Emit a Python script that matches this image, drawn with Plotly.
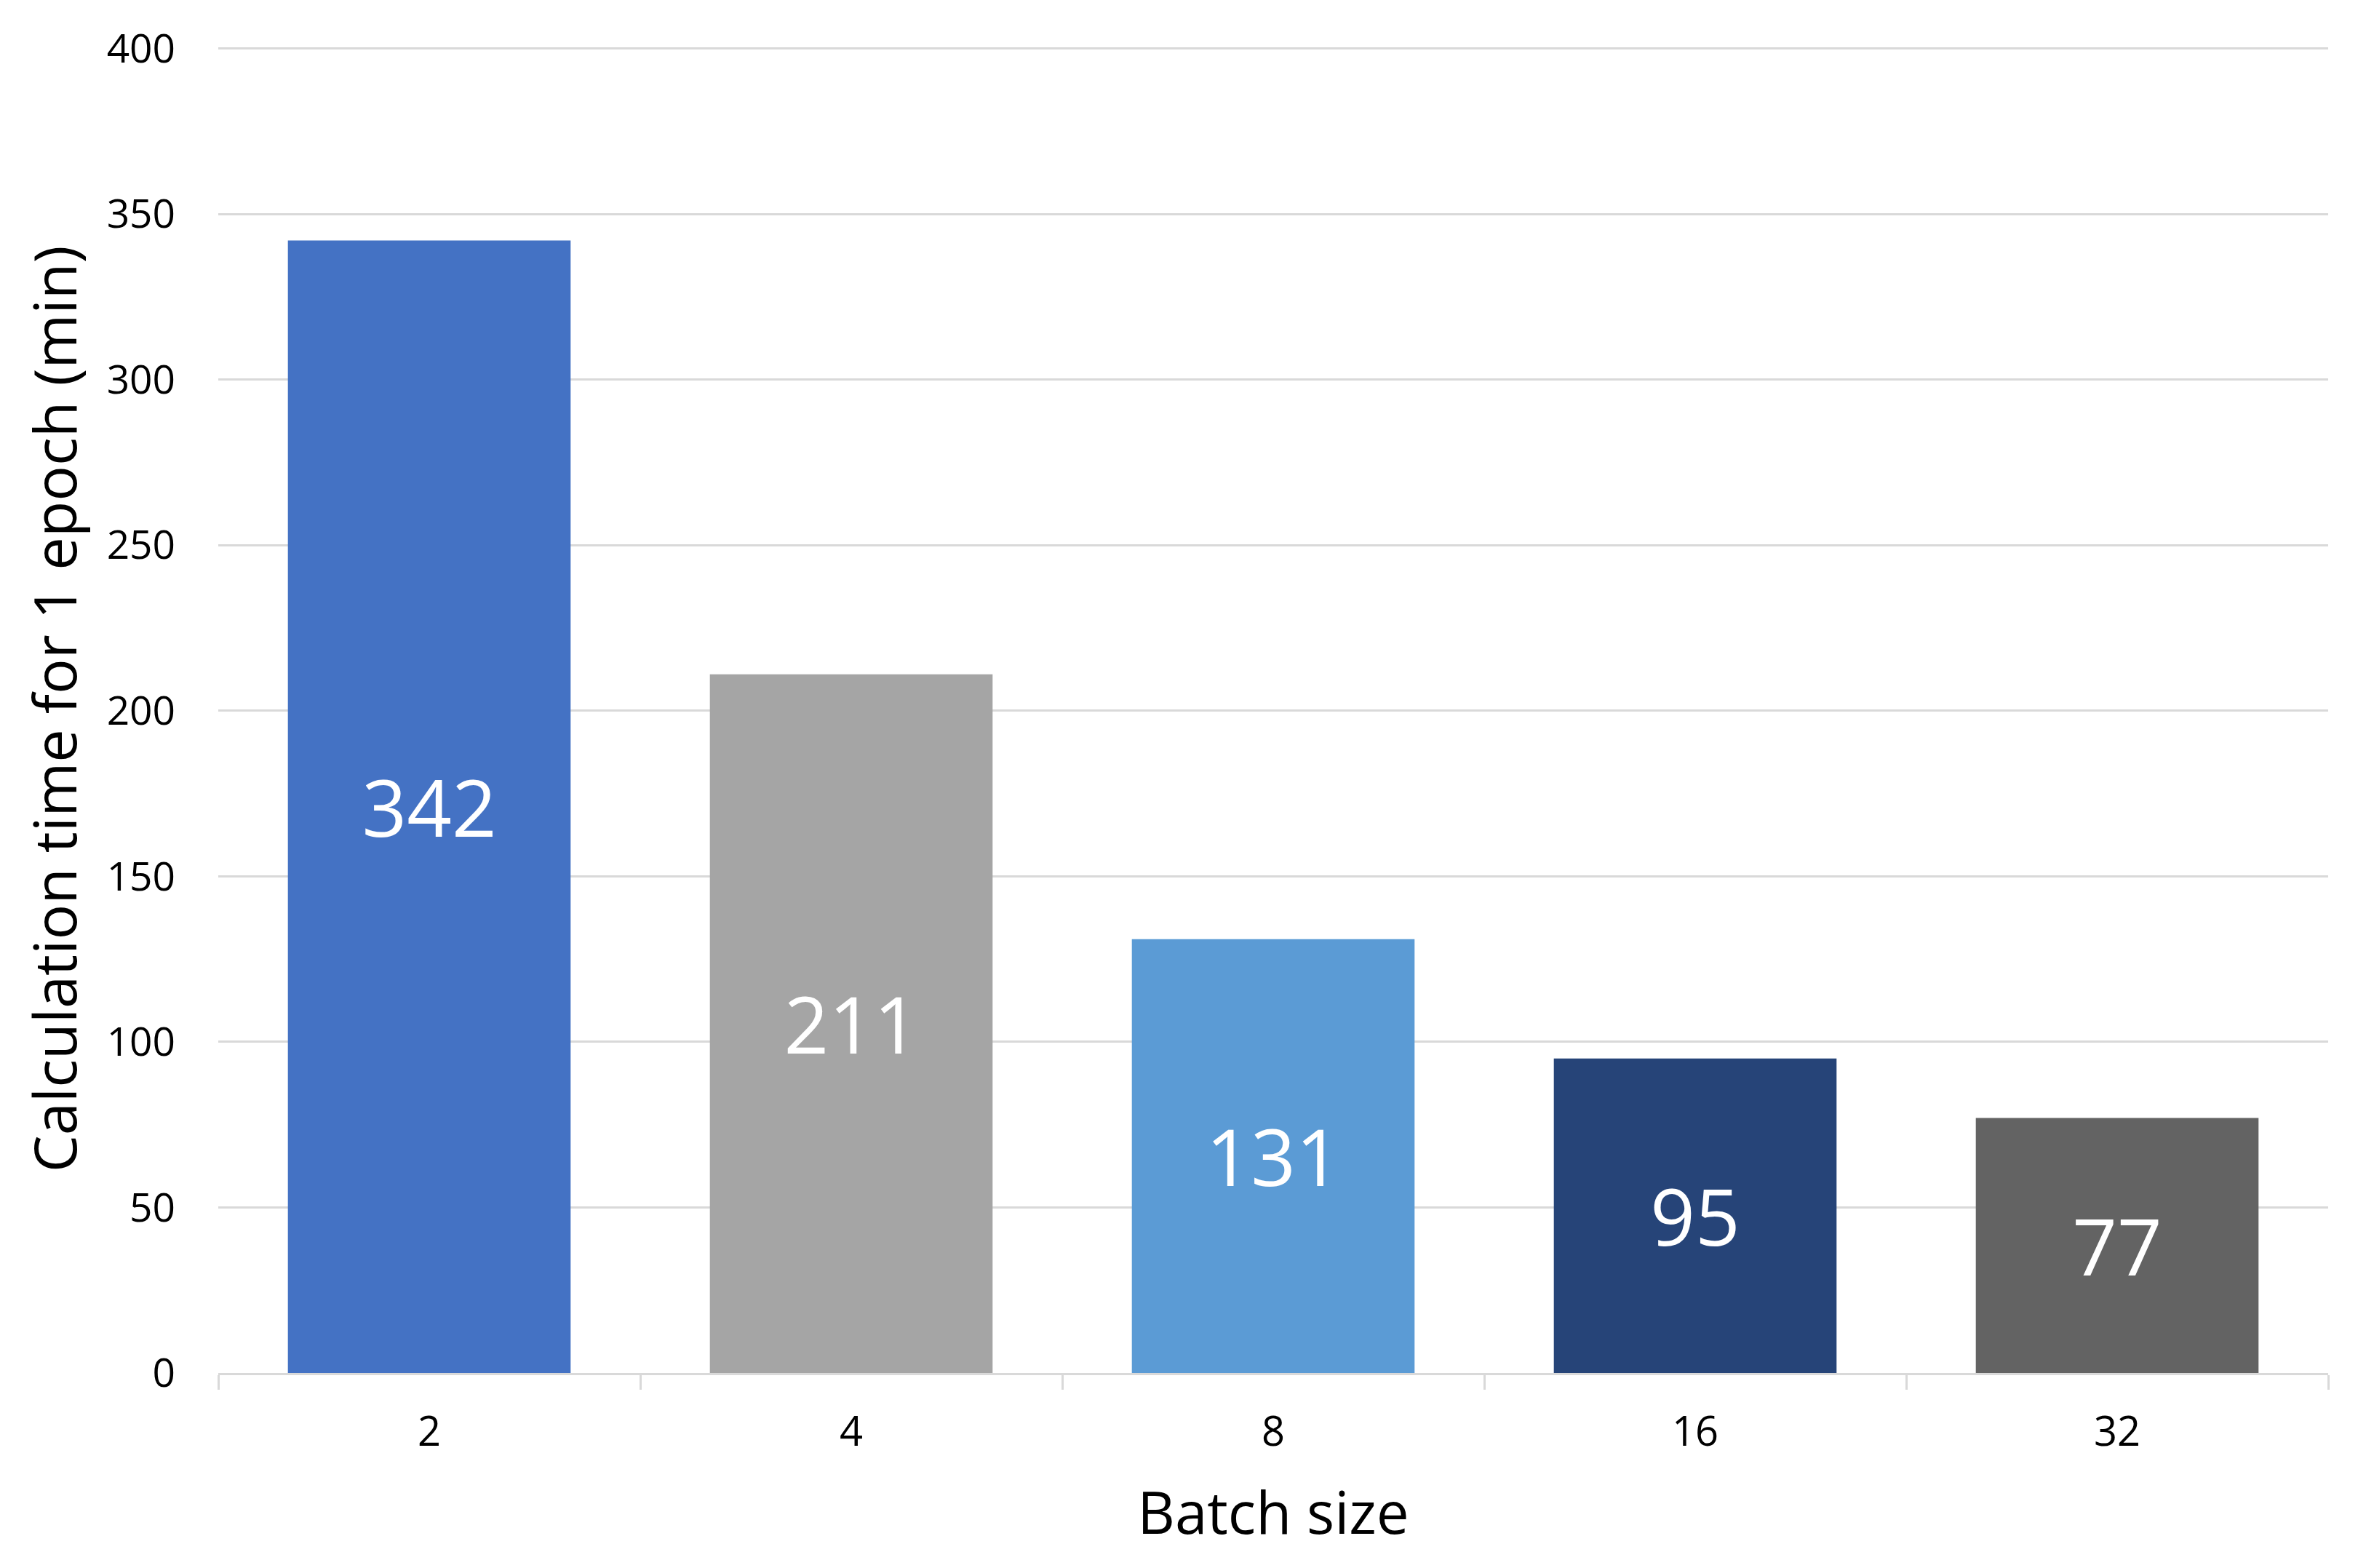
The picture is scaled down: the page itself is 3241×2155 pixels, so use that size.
import plotly.graph_objects as go

categories = ["2", "4", "8", "16", "32"]
values = [342, 211, 131, 95, 77]
colors = ["#4472C4", "#A5A5A5", "#5B9BD5", "#264478", "#636363"]
y_ticks = [0, 50, 100, 150, 200, 250, 300, 350, 400]

FONT = "Open Sans"

fig = go.Figure(
    go.Bar(
        x=categories,
        y=values,
        marker=dict(color=colors, line=dict(width=0)),
        text=[str(v) for v in values],
        textposition="inside",
        insidetextanchor="middle",
        textangle=0,
        textfont=dict(family=FONT, size=108, color="white"),
        cliponaxis=False,
    )
)

fig.update_layout(
    width=3241,
    height=2155,
    margin=dict(l=292, r=49, t=54, b=276, autoexpand=False),
    paper_bgcolor="white",
    plot_bgcolor="white",
    bargap=0.33,
    showlegend=False,
    uniformtext=dict(mode=False),
    font=dict(family=FONT, color="#000000"),
)

fig.update_xaxes(
    type="category",
    tickson="boundaries",
    ticks="outside",
    ticklen=20,
    tickwidth=3,
    tickcolor="#D9D9D9",
    showline=True,
    linecolor="#D9D9D9",
    linewidth=3,
    showgrid=False,
    tickfont=dict(family=FONT, size=56, color="#000000"),
    ticklabelstandoff=30,
    title=dict(text="Batch size", font=dict(family=FONT, size=80, color="#000000"), standoff=50),
    automargin=False,
)

fig.update_yaxes(
    range=[0, 401],
    tickvals=y_ticks,
    ticktext=[str(t) for t in y_ticks],
    showgrid=True,
    gridcolor="#D9D9D9",
    gridwidth=3,
    zeroline=False,
    showline=False,
    ticks="",
    tickfont=dict(family=FONT, size=55, color="#000000"),
    ticklabelstandoff=58,
    title=dict(text="Calculation time for 1 epoch (min)", font=dict(family=FONT, size=81, color="#000000"), standoff=14),
    automargin=False,
)

fig.write_html("out.html")
